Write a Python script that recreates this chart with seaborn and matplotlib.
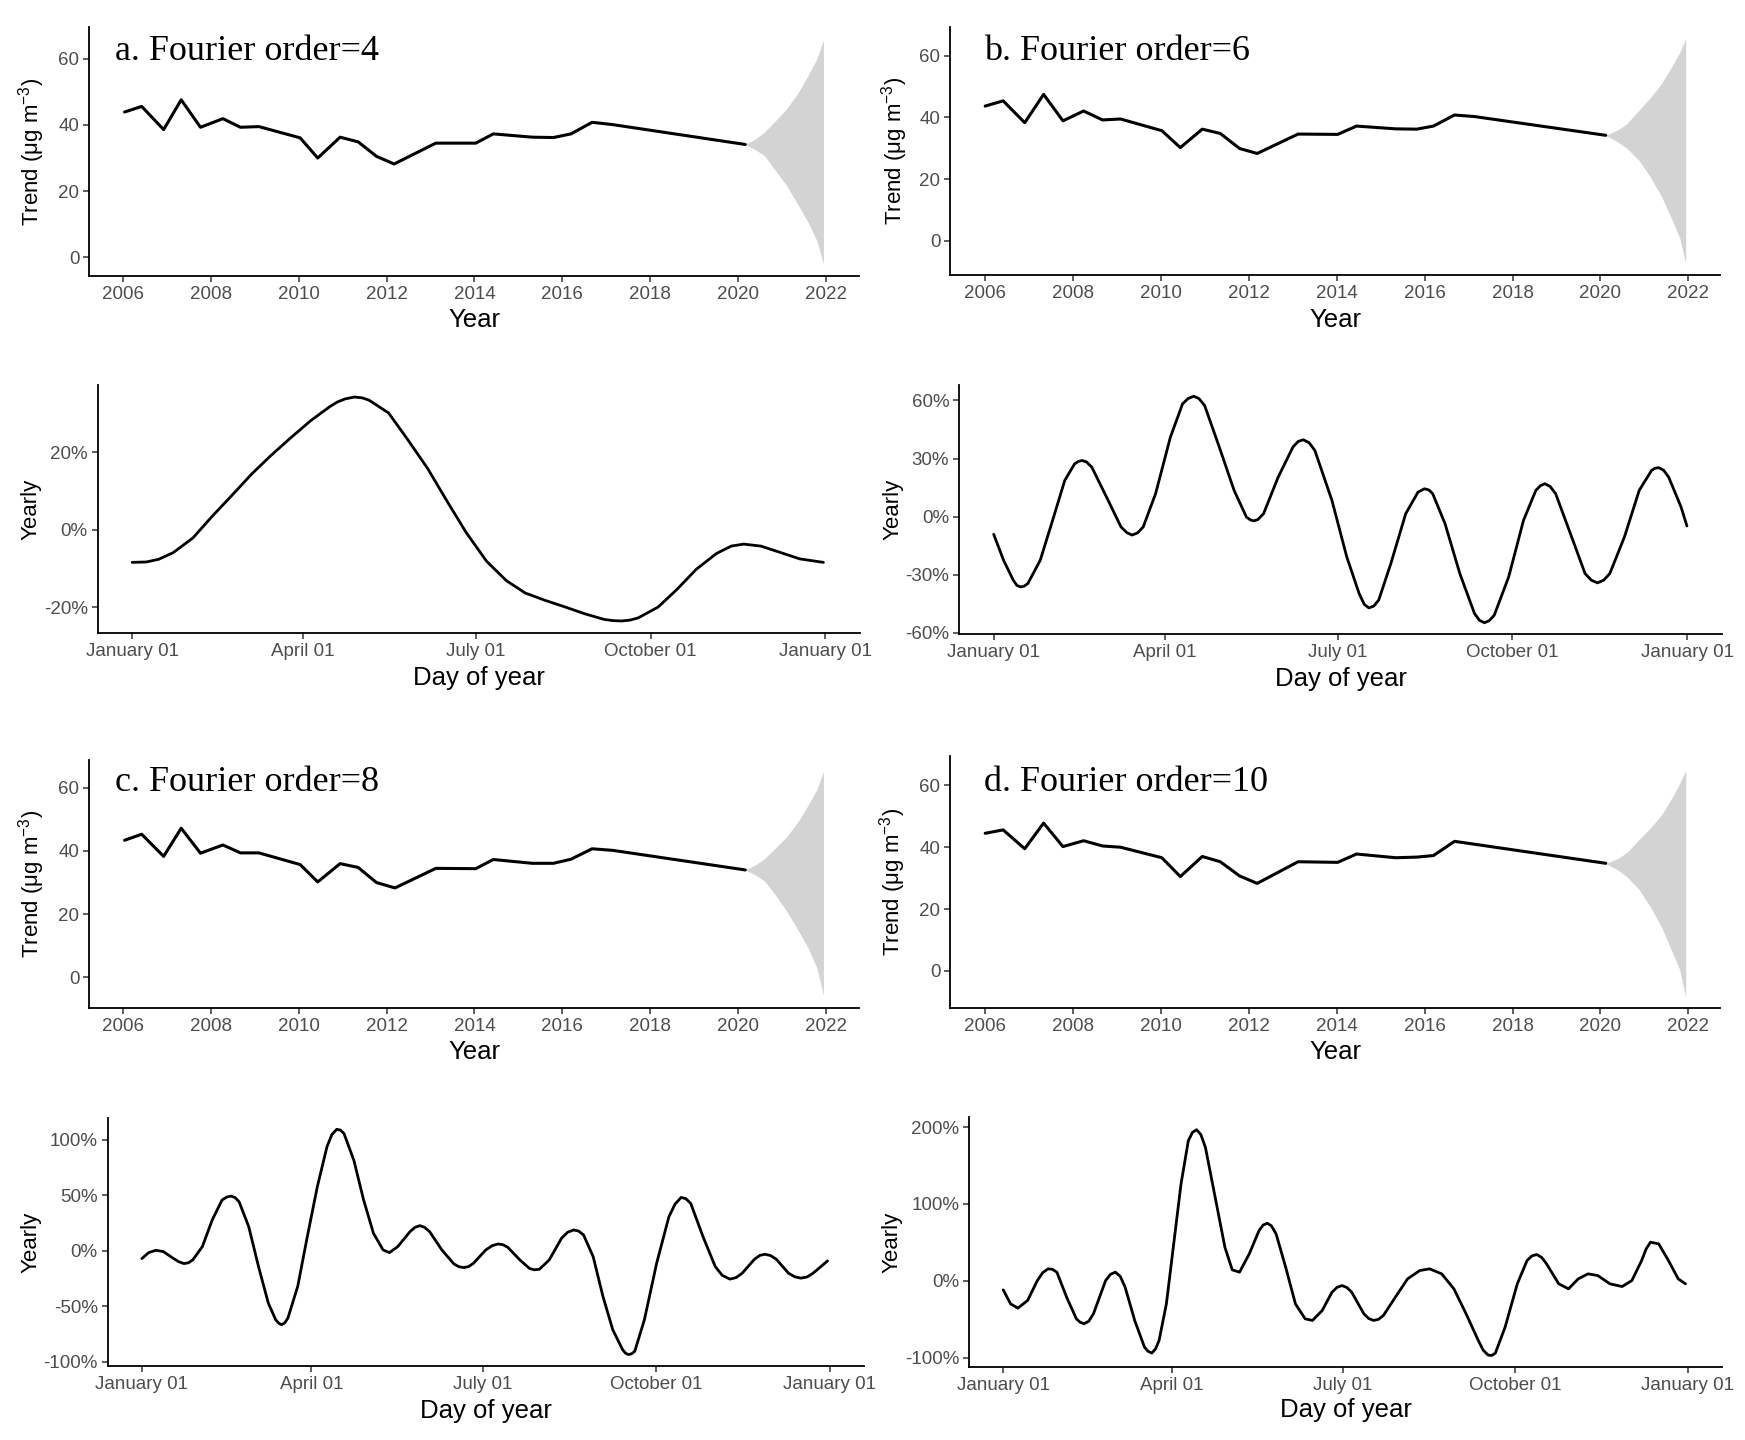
import numpy as np
import pandas as pd
import matplotlib
matplotlib.use("Agg")
import matplotlib.pyplot as plt
from matplotlib.font_manager import fontManager
import seaborn as sns

# ---------------- data ----------------
trend_years_a = [2006.03, 2006.42, 2006.92, 2007.32, 2007.76, 2008.27, 2008.67, 2009.09, 2010.03, 2010.43,
                 2010.94, 2011.35, 2011.77, 2012.17, 2013.12, 2014.03, 2014.43, 2015.32, 2015.80, 2016.20,
                 2016.68, 2017.15, 2020.17]
trend_vals_a = [43.9, 45.6, 38.6, 47.6, 39.3, 41.9, 39.3, 39.5, 36.1, 30.0,
                36.3, 34.9, 30.5, 28.2, 34.5, 34.5, 37.3, 36.3, 36.2, 37.3,
                40.8, 40.1, 34.1]
trend_years_b = [2006.00, 2006.41, 2006.90, 2007.33, 2007.77, 2008.24, 2008.67, 2009.08, 2010.02, 2010.44,
                 2010.94, 2011.35, 2011.79, 2012.19, 2013.12, 2014.02, 2014.45, 2015.34, 2015.82, 2016.20,
                 2016.68, 2017.13, 2020.12]
trend_vals_b = [43.7, 45.4, 38.3, 47.5, 38.9, 42.1, 39.2, 39.5, 35.7, 30.2,
                36.2, 34.8, 29.9, 28.3, 34.6, 34.5, 37.2, 36.3, 36.2, 37.2,
                40.8, 40.3, 34.2]
trend_years_c = [2006.03, 2006.42, 2006.92, 2007.32, 2007.76, 2008.27, 2008.67, 2009.09, 2010.03, 2010.43,
                 2010.94, 2011.35, 2011.77, 2012.19, 2013.12, 2014.03, 2014.43, 2015.32, 2015.80, 2016.20,
                 2016.68, 2017.15, 2020.17]
trend_vals_c = [43.4, 45.3, 38.3, 47.2, 39.3, 41.9, 39.4, 39.4, 35.7, 30.2,
                36.0, 34.8, 30.0, 28.3, 34.5, 34.4, 37.3, 36.1, 36.1, 37.4,
                40.7, 40.2, 34.0]
trend_years_d = [2006.00, 2006.41, 2006.90, 2007.33, 2007.77, 2008.24, 2008.67, 2009.08, 2010.02, 2010.44,
                 2010.94, 2011.35, 2011.79, 2012.19, 2013.12, 2014.02, 2014.45, 2015.34, 2015.82, 2016.20,
                 2016.68, 2020.12]
trend_vals_d = [44.5, 45.6, 39.5, 47.8, 40.2, 42.1, 40.4, 40.0, 36.6, 30.5,
                37.0, 35.3, 30.7, 28.3, 35.3, 35.1, 37.8, 36.6, 36.8, 37.3,
                41.9, 34.8]

band_years_a = [2020.17, 2020.40, 2020.60, 2020.86, 2021.11, 2021.36, 2021.60, 2021.80, 2021.95]
band_hi_a = [34.1, 35.8, 37.8, 41.3, 44.9, 49.4, 55.0, 60.0, 65.7]
band_lo_a = [34.1, 32.5, 30.8, 26.2, 21.7, 16.1, 10.6, 5.0, -2.0]
band_years_b = [2020.12, 2020.40, 2020.60, 2020.88, 2021.14, 2021.39, 2021.62, 2021.80, 2021.94]
band_hi_b = [34.2, 36.0, 38.0, 42.4, 46.5, 51.0, 56.5, 61.0, 65.6]
band_lo_b = [34.2, 32.0, 30.0, 26.0, 20.5, 14.3, 7.0, 1.0, -7.4]
band_years_c = [2020.17, 2020.40, 2020.60, 2020.86, 2021.11, 2021.36, 2021.60, 2021.80, 2021.95]
band_hi_c = [34.0, 35.6, 37.5, 41.0, 44.5, 49.0, 54.5, 59.5, 65.1]
band_lo_c = [34.0, 32.4, 30.6, 26.0, 21.0, 15.2, 9.3, 3.0, -5.7]
band_years_d = [2020.12, 2020.40, 2020.60, 2020.88, 2021.14, 2021.39, 2021.62, 2021.80, 2021.94]
band_hi_d = [34.7, 36.4, 38.3, 42.5, 46.3, 50.5, 55.8, 60.5, 64.9]
band_lo_d = [34.7, 32.6, 30.5, 26.3, 20.6, 14.2, 6.5, 0.5, -8.4]

yearly_days_a = [0, 7.5, 14, 21.6, 32, 42, 52.6, 63, 73, 83.5, 94, 104, 108, 112, 117, 121, 124.7, 135, 145,
                 155.7, 166, 176, 186.6, 197, 207, 217.5, 228, 238, 248.5, 253, 257.5, 262, 266.5, 277, 287,
                 297, 307.7, 315.5, 322, 331, 341, 351.5, 364]
yearly_vals_a = [-8.4, -8.3, -7.6, -5.9, -2.1, 3.4, 8.9, 14.4, 19.1, 23.7, 28.1, 31.7, 32.9, 33.7, 34.2,
                 34.0, 33.4, 30.1, 23.3, 15.7, 7.2, -0.8, -8.1, -13.1, -16.3, -18.2, -19.9, -21.6, -23.1,
                 -23.4, -23.5, -23.3, -22.7, -19.9, -15.3, -10.2, -6.1, -4.2, -3.7, -4.2, -5.8, -7.5, -8.4]
yearly_days_b = [0, 5.2, 10.3, 12.2, 14.2, 16, 18, 24.5, 31, 37.4, 42.6, 44.5, 46.5, 48.8, 51.6, 59.4, 67,
                 70, 72.8, 75.7, 78.7, 85.2, 93, 99.4, 102.3, 105.3, 108, 111, 118.7, 126.5, 133, 135, 136.8,
                 139, 142, 149.7, 157.5, 160.3, 163, 166, 169, 178, 185.8, 192.3, 195, 197.4, 200, 202.6,
                 209, 216.8, 223.3, 226.7, 229, 231, 237.5, 245.3, 253, 255.6, 258.2, 260.8, 263.4, 271,
                 278.8, 285.3, 287.7, 290, 292.8, 295.7, 303.5, 311.2, 314.5, 317.7, 321, 324.2, 331.9,
                 339.7, 346.2, 348, 350, 352.5, 355.2, 361.7, 364.8]
yearly_vals_b = [-9.1, -22.5, -32.8, -35.5, -36.3, -35.9, -34.5, -22.5, -1.9, 18.7, 27.3, 28.5, 29.0, 28.3,
                 25.6, 10.1, -5.3, -8.2, -9.5, -8.4, -5.3, 11.9, 41.1, 58.3, 61.0, 62.2, 61.0, 57.4, 36.0,
                 13.6, -0.2, -1.6, -2.2, -1.5, 1.5, 20.4, 36.0, 38.9, 39.7, 38.2, 34.2, 8.4, -20.8, -39.7,
                 -45.3, -47.1, -46.2, -43.1, -24.2, 1.5, 12.7, 14.4, 13.8, 11.9, -3.6, -29.4, -50.0, -53.5,
                 -54.8, -53.7, -50.9, -31.1, -1.9, 13.6, 16.0, 17.0, 15.6, 11.9, -8.8, -29.4, -32.8, -34.2,
                 -32.8, -29.4, -10.5, 13.6, 23.9, 25.0, 25.3, 24.0, 20.4, 5.0, -4.8]
yearly_days_c = [0, 3.6, 7.5, 11.4, 16.6, 19.5, 22.3, 24.7, 27, 32.1, 37.3, 42.5, 45, 47.2, 49.4, 51.6,
                 56.7, 61.9, 67.1, 71, 72.6, 74.1, 75.8, 77.5, 82.7, 87.8, 93.1, 98.2, 100.8, 103.4, 105.4,
                 107.3, 112.5, 117.7, 122.9, 128, 131.4, 135.8, 142.3, 145, 147.5, 150, 152.7, 159.2, 165.6,
                 168.2, 170.8, 173.4, 176, 182.5, 186, 189, 191.6, 194.2, 200.6, 205.8, 208.4, 211, 216.2,
                 222.7, 226, 229.2, 231.8, 234.4, 239.5, 244.7, 249.9, 255.1, 256.7, 258.2, 259.9, 261.6,
                 266.7, 273.2, 279.7, 283, 286.2, 288.7, 291.3, 297.8, 304.3, 308, 312.1, 315.4, 318.6,
                 325.1, 328, 330.7, 333.7, 336.7, 343.2, 346.5, 349.7, 353, 356.2, 363.9]
yearly_vals_c = [-7.2, -1.8, 0.3, -0.9, -6.9, -10.0, -11.7, -11.0, -8.4, 3.6, 27.5, 45.5, 48.2, 49.1, 47.9,
                 44.0, 21.6, -14.4, -47.3, -62.3, -65.4, -66.8, -65.2, -60.8, -32.3, 12.6, 57.5, 93.4,
                 104.5, 109.3, 108.6, 105.4, 81.4, 45.5, 15.6, 0.6, -1.8, 3.6, 17.1, 21.0, 22.5, 21.0, 17.1,
                 0.6, -12.0, -14.5, -15.3, -14.4, -11.4, 0.6, 4.5, 6.0, 5.3, 3.0, -8.4, -16.2, -17.3, -16.8,
                 -8.4, 11.1, 16.6, 18.6, 17.6, 14.1, -5.4, -41.3, -71.3, -89.2, -92.5, -93.7, -93.0, -90.7,
                 -62.3, -11.4, 30.5, 42.0, 47.9, 46.8, 42.5, 12.6, -14.4, -22.3, -25.7, -24.3, -20.4, -7.8,
                 -4.3, -3.3, -4.5, -7.8, -20.4, -23.6, -24.8, -23.8, -20.4, -9.3]
yearly_days_d = [0, 3.9, 7.8, 13, 18.2, 21, 23.9, 26.2, 28.6, 33.8, 39, 41, 43.1, 45.6, 48.1, 54.6, 57.2,
                 59.8, 62.4, 65, 70.1, 75.3, 77.2, 79.2, 81.2, 83.1, 87, 90.9, 94.8, 98.7, 100.9, 103.1,
                 105.4, 107.8, 113, 118.2, 122.1, 126, 131.2, 136.4, 138.6, 140.8, 143, 145.5, 150.6, 155.8,
                 161, 164.9, 170.1, 175.3, 178, 180.6, 183.2, 185.8, 192.3, 194.9, 197.5, 200.1, 202.7,
                 209.1, 215.6, 222.1, 227.3, 233.8, 240.3, 246.8, 253.3, 255.9, 258.5, 260.5, 262.4, 267.6,
                 274.1, 279.3, 281.9, 284.5, 287.1, 289.7, 296.2, 301.4, 306.6, 311.8, 317, 323.5, 330,
                 335.2, 340.4, 342.8, 345.1, 349.5, 354.7, 359.9, 363.8]
yearly_vals_d = [-11.7, -29.9, -35.5, -25.5, 0.4, 10.5, 15.6, 15.0, 11.3, -21.2, -49.4, -53.8, -55.8, -52.5,
                 -42.9, 0.4, 8.5, 11.3, 5.8, -8.2, -51.5, -86.1, -91.5, -93.9, -88.5, -77.5, -29.9, 48.1,
                 126.0, 182.3, 193.0, 196.5, 190.0, 173.6, 108.7, 43.7, 14.3, 11.3, 35.1, 65.4, 72.5, 74.9,
                 71.5, 61.0, 17.7, -29.9, -49.4, -51.5, -38.5, -14.7, -8.5, -6.1, -8.6, -14.7, -42.9, -49.0,
                 -51.5, -50.0, -45.0, -21.2, 2.6, 13.4, 15.6, 9.1, -10.4, -42.9, -77.5, -90.0, -96.5, -97.0,
                 -94.0, -60.2, -3.9, 26.4, 32.5, 34.2, 30.5, 22.1, -3.9, -10.4, 2.6, 9.1, 6.9, -3.9, -7.4,
                 0.4, 26.4, 41.5, 50.2, 48.1, 26.4, 2.6, -3.9]

year_ticks = [2006, 2008, 2010, 2012, 2014, 2016, 2018, 2020, 2022]
trend_ticks = [0, 20, 40, 60]
day_ticks = [0, 90, 181, 273, 365]
day_labels = ["January 01", "April 01", "July 01", "October 01", "January 01"]
pct_ticks_a = [-20, 0, 20]
pct_ticks_b = [-60, -30, 0, 30, 60]
pct_ticks_c = [-100, -50, 0, 50, 100]
pct_ticks_d = [-100, 0, 100, 200]
titles = ["a. Fourier order=4", "b. Fourier order=6", "c. Fourier order=8", "d. Fourier order=10"]

# ---------------- style ----------------
sns.set_theme(style="ticks")
names = {f.name for f in fontManager.ttflist}
narrow = "Liberation Sans Narrow" if "Liberation Sans Narrow" in names else "Liberation Sans"
plt.rcParams["font.family"] = ["Liberation Sans", "DejaVu Sans"]
plt.rcParams["mathtext.fontset"] = "custom"
plt.rcParams["mathtext.rm"] = "Liberation Sans"
plt.rcParams["mathtext.it"] = "Liberation Sans:italic"
plt.rcParams["mathtext.default"] = "regular"

W, H = 1745, 1440
fig = plt.figure(figsize=(W / 100, H / 100), dpi=100)
fig.patch.set_facecolor("white")


def make_ax(l, t, r, b):
    ax = fig.add_axes([l / W, 1 - b / H, (r - l) / W, (b - t) / H])
    ax.set_facecolor("white")
    return ax


def style(ax, box, xlab, ylab, xlab_y, ylab_x):
    l, t, r, b = box
    sns.despine(ax=ax)
    for s in ("left", "bottom"):
        ax.spines[s].set_color("black")
        ax.spines[s].set_linewidth(1.3)
    ax.tick_params(length=4, width=1.1, color="#333333", labelcolor="#4D4D4D",
                   labelsize=13.5, pad=3)
    for lbl in ax.get_xticklabels() + ax.get_yticklabels():
        lbl.set_fontfamily(narrow)
    ax.set_xlabel(xlab, fontsize=18.5, family=narrow, color="black")
    ax.set_ylabel(ylab, fontsize=16, color="black")
    ax.xaxis.label.set_va("center")
    ax.yaxis.label.set_va("center")
    ax.xaxis.set_label_coords(0.5, (b - xlab_y) / (b - t))
    ax.yaxis.set_label_coords((ylab_x - l) / (r - l), 0.5)


def trend_panel(box, yrs, vals, byrs, blo, bhi, xlim, ylim, xlab_y, ylab_x, title, tx, ty):
    ax = make_ax(*box)
    ax.fill_between(byrs, blo, bhi, color="#D3D3D3", lw=0, zorder=1)
    sns.lineplot(x=yrs, y=vals, ax=ax, color="black", lw=2.2, sort=False,
                 estimator=None, zorder=3)
    ax.lines[-1].set_solid_joinstyle("round")
    ax.set_xlim(*xlim)
    ax.set_ylim(*ylim)
    ax.set_xticks(year_ticks)
    ax.set_xticklabels([str(v) for v in year_ticks])
    ax.set_yticks(trend_ticks)
    ax.set_yticklabels([str(v) for v in trend_ticks])
    style(ax, box, "Year", "Trend (μg m$^{-3}$)", xlab_y, ylab_x)
    fig.text(tx / W, 1 - ty / H, title, family="Liberation Serif", fontsize=26,
             color="black", ha="left", va="baseline")
    return ax


def yearly_panel(box, days, vals, ylim, pticks, xlab_y, ylab_x):
    ax = make_ax(*box)
    sns.lineplot(x=days, y=vals, ax=ax, color="black", lw=2.0, sort=False,
                 estimator=None)
    ax.lines[-1].set_solid_joinstyle("round")
    ax.set_xlim(-18.25, 383.25)
    ax.set_ylim(*ylim)
    ax.set_xticks(day_ticks)
    ax.set_xticklabels(day_labels)
    ax.set_yticks(pticks)
    ax.set_yticklabels([f"{v}%" for v in pticks])
    style(ax, box, "Day of year", "Yearly", xlab_y, ylab_x)
    return ax


trend_panel((89, 27, 859, 276), trend_years_a, trend_vals_a, band_years_a, band_lo_a, band_hi_a,
            (2005.22, 2022.76), (-5.65, 69.6), 320, 32, titles[0], 115, 60)
trend_panel((950, 27, 1720, 275), trend_years_b, trend_vals_b, band_years_b, band_lo_b, band_hi_b,
            (2005.2, 2022.72), (-11.2, 69.4), 320, 895, titles[1], 984, 60)
trend_panel((89, 760, 859, 1008), trend_years_c, trend_vals_c, band_years_c, band_lo_c, band_hi_c,
            (2005.22, 2022.76), (-9.7, 68.8), 1052, 32, titles[2], 115, 791)
trend_panel((950, 756, 1720, 1008), trend_years_d, trend_vals_d, band_years_d, band_lo_d, band_hi_d,
            (2005.2, 2022.72), (-12.0, 69.5), 1052, 893, titles[3], 984, 791)

yearly_panel((97.5, 385, 860, 633), yearly_days_a, yearly_vals_a, (-26.6, 37.3), pct_ticks_a, 678, 31)
yearly_panel((959, 385, 1722, 634), yearly_days_b, yearly_vals_b, (-60.6, 68.0), pct_ticks_b, 679, 893)
yearly_panel((107.5, 1118, 864, 1366), yearly_days_c, yearly_vals_c, (-104.0, 119.5), pct_ticks_c, 1411, 31)
yearly_panel((969, 1117, 1722, 1367), yearly_days_d, yearly_vals_d, (-112.0, 213.0), pct_ticks_d, 1410, 892)

fig.savefig("out.png", dpi=100, facecolor="white")
